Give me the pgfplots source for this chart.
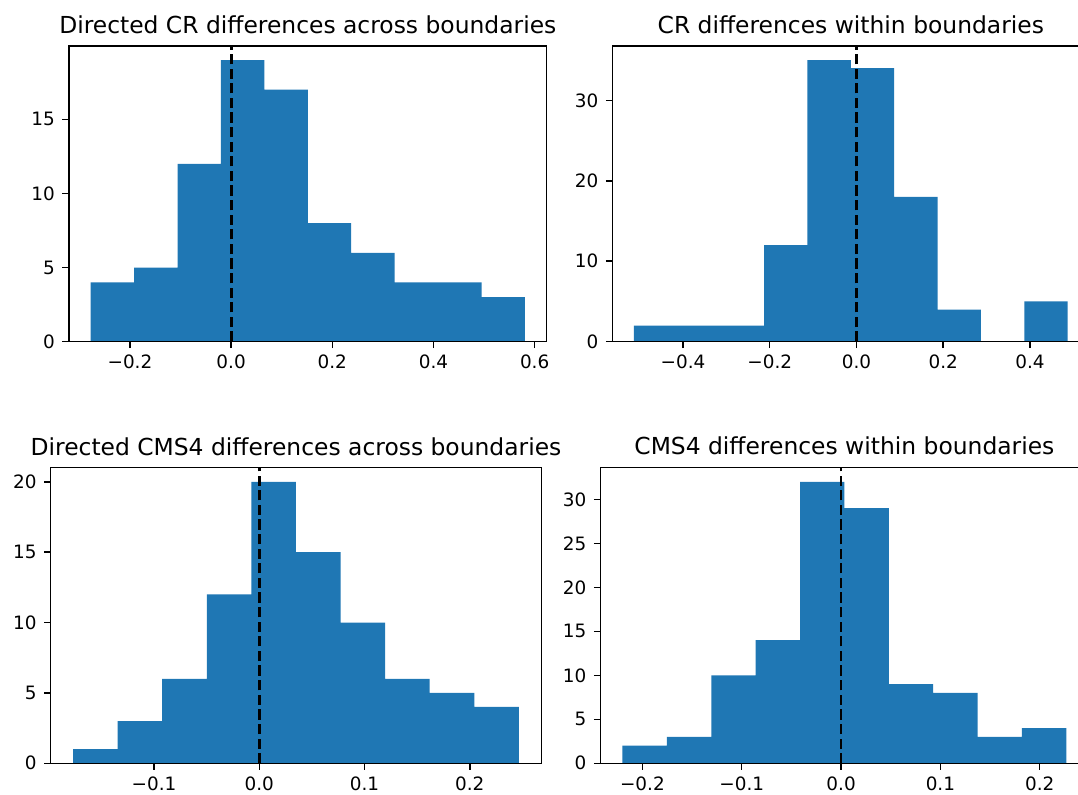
\documentclass[border=0pt]{standalone}
\usepackage{pgfplots}
\pgfplotsset{compat=1.18}
\usepackage{fontspec}
\setmainfont{DejaVu Sans}
\definecolor{histblue}{HTML}{1F77B4}

\pgfplotsset{
  histax/.style={
    scale only axis,
    anchor=south west,
    ymin=0,
    axis on top,
    axis line style={black, line width=0.74pt},
    tick align=outside,
    xtick pos=bottom,
    ytick pos=left,
    major tick length=3.22pt,
    every tick/.style={black, line width=0.74pt},
    ticklabel style={font=\fontsize{9.2}{11}\selectfont},
    xticklabel style={inner sep=0pt, yshift=-3.4pt},
    yticklabel style={inner sep=0pt, xshift=-3.6pt},
    every axis title shift=0pt,
    title style={font=\fontsize{11.7}{14}\selectfont, at={(0.5,1)},
                 anchor=base, inner sep=0pt, yshift=6.35pt},
  },
  hist/.style={ybar interval, fill=histblue, draw=none},
  zeroline/.style={black, line width=1.38pt, dash pattern=on 5.1pt off 2.2pt},
}

\begin{document}
\begin{tikzpicture}
% the page is this rectangle; the right-hand axes run past its edge
\useasboundingbox (0,0) rectangle (539pt,397pt);
\clip (0,0) rectangle (539pt,397pt);

% Directed CR differences across boundaries
\begin{axis}[histax, at={(34.45pt,226.15pt)}, width=238.9pt, height=147.85pt,
  xmin=-0.3207, xmax=0.6238, ymax=19.95,
  xtick={-0.2,0,0.2,0.4,0.6}, xticklabels={−0.2,0.0,0.2,0.4,0.6},
  ytick={0,5,10,15}, yticklabels={0,5,10,15},
  title={Directed CR differences across boundaries}]
\addplot[hist] coordinates {
  (-0.2778,4) (-0.1919,5) (-0.1060,12) (-0.0202,19) (0.0657,17)
  (0.1516,8) (0.2374,6) (0.3233,4) (0.4092,4) (0.4950,3) (0.5809,3)};
\addplot[zeroline] coordinates {(0,0) (0,19.95)};
\end{axis}

% CR differences within boundaries
\begin{axis}[histax, at={(306.15pt,226.15pt)}, width=238.55pt, height=147.85pt,
  xmin=-0.563, xmax=0.537, ymax=36.75,
  xtick={-0.4,-0.2,0,0.2,0.4}, xticklabels={−0.4,−0.2,0.0,0.2,0.4},
  ytick={0,10,20,30}, yticklabels={0,10,20,30},
  title={CR differences within boundaries}]
\addplot[hist] coordinates {
  (-0.513,2) (-0.413,2) (-0.313,2) (-0.213,12) (-0.113,35)
  (-0.013,34) (0.087,18) (0.187,4) (0.287,0) (0.387,5) (0.487,5)};
\addplot[zeroline] coordinates {(0,0) (0,36.75)};
\end{axis}

% Directed CMS4 differences across boundaries
\begin{axis}[histax, at={(25.35pt,15.35pt)}, width=245.3pt, height=147.8pt,
  xmin=-0.1982, xmax=0.2679, ymax=21,
  xtick={-0.1,0,0.1,0.2}, xticklabels={−0.1,0.0,0.1,0.2},
  ytick={0,5,10,15,20}, yticklabels={0,5,10,15,20},
  title={Directed CMS4 differences across boundaries}]
\addplot[hist] coordinates {
  (-0.1770,1) (-0.1346,3) (-0.0923,6) (-0.0499,12) (-0.0075,20)
  (0.0348,15) (0.0772,10) (0.1196,6) (0.1619,5) (0.2043,4) (0.2467,4)};
\addplot[zeroline] coordinates {(0,0) (0,21)};
\end{axis}

% CMS4 differences within boundaries
\begin{axis}[histax, at={(300.15pt,15.35pt)}, width=244.1pt, height=147.8pt,
  xmin=-0.2424, xmax=0.2491, ymax=33.6,
  xtick={-0.2,-0.1,0,0.1,0.2}, xticklabels={−0.2,−0.1,0.0,0.1,0.2},
  ytick={0,5,10,15,20,25,30}, yticklabels={0,5,10,15,20,25,30},
  title={CMS4 differences within boundaries}]
\addplot[hist] coordinates {
  (-0.2201,2) (-0.1754,3) (-0.1307,10) (-0.0860,14) (-0.0413,32)
  (0.0033,29) (0.0480,9) (0.0927,8) (0.1374,3) (0.1821,4) (0.2268,4)};
\addplot[zeroline] coordinates {(0,0) (0,33.6)};
\end{axis}
\end{tikzpicture}
\end{document}
